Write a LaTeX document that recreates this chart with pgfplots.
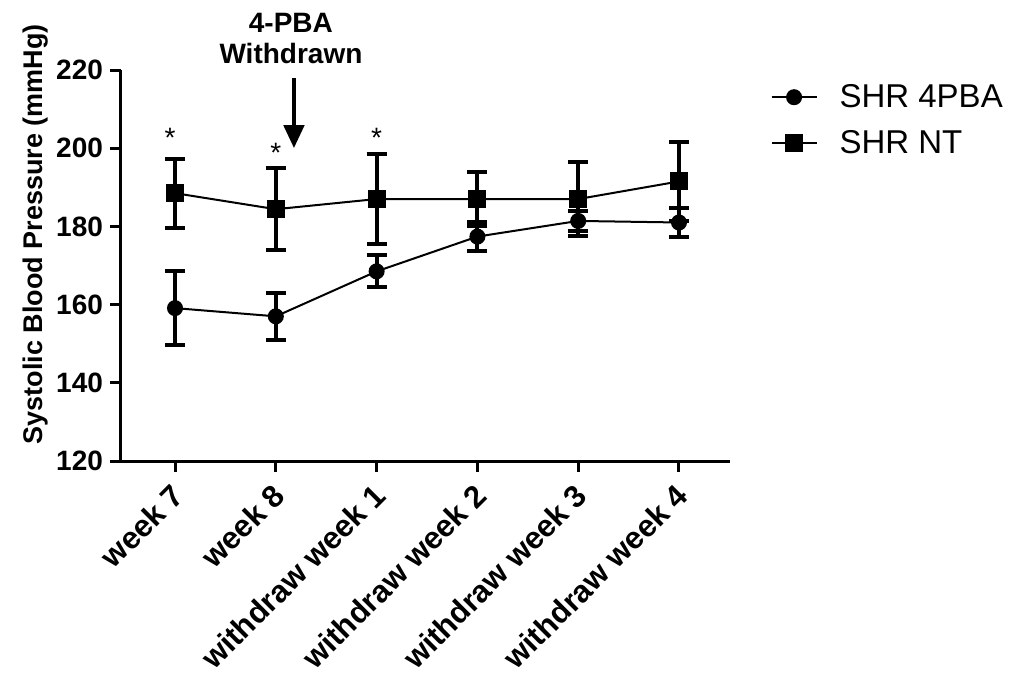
\documentclass[border=0pt]{standalone}
\usepackage{fontspec}
\setmainfont{Liberation Sans}
\usepackage{pgfplots}
\pgfplotsset{compat=1.18}
\usetikzlibrary{arrows.meta}

\begin{document}
\begin{tikzpicture}
  % 1 px of the reference = 0.5pt
  \useasboundingbox (0,0) rectangle (504.5pt,338.5pt);
  \begin{axis}[
      at={(60.5pt,108pt)}, anchor=south west,
      scale only axis,
      width=304.5pt, height=195.5pt,
      xmin=-0.536, xmax=5.506,
      ymin=120, ymax=220,
      axis lines=left,
      axis line style={line width=1.5pt, -},
      tick align=outside,
      major tick length=5.5pt,
      tick style={line width=1.5pt, black},
      xtick={0,1,2,3,4,5},
      xticklabels={week 7, week 8, withdraw week 1, withdraw week 2,
                   withdraw week 3, withdraw week 4},
      ytick={120,140,160,180,200,220},
      /pgf/number format/assume math mode=true,
      tick label style={font=\fontsize{14}{16}\selectfont\bfseries},
      xticklabel style={xshift=4pt, rotate=45, anchor=east,
                        font=\fontsize{15.5}{17}\selectfont\bfseries},
      xticklabel shift=6.5pt,
      ylabel={Systolic Blood Pressure (mmHg)},
      ylabel style={font=\fontsize{13.5}{15}\selectfont\bfseries,
                    at={(rel axis cs:-0.141,0.58)}, anchor=center},
      clip=false,
      legend style={draw=none, fill=none, inner sep=0pt,
                    at={(rel axis cs:1.066,0.975)}, anchor=north west,
                    font=\fontsize{16.5}{19}\selectfont,
                    row sep=6pt, column sep=9pt},
      legend cell align=left,
      legend image code/.code={
        \draw[mark repeat=2, mark phase=2, #1]
          plot coordinates {(0pt,0pt) (11.25pt,0pt) (22.5pt,0pt)};
      },
    ]
    \addplot[black, line width=1pt, mark=*, mark size=3.5pt,
      error bars/.cd, y dir=both, y explicit,
      error bar style={line width=2pt},
      error mark options={rotate=90, mark size=5pt, line width=2pt}]
      coordinates {
        (0,159.1) +- (0,9.4)
        (1,157.0) +- (0,6.0)
        (2,168.5) +- (0,4.1)
        (3,177.4) +- (0,3.8)
        (4,181.4) +- (0,2.6)
        (5,181.0) +- (0,3.7)
      };
    \addlegendentry{SHR 4PBA}
    \addplot[black, line width=1pt, mark=square*, mark size=4pt,
      error bars/.cd, y dir=both, y explicit,
      error bar style={line width=2pt},
      error mark options={rotate=90, mark size=5pt, line width=2pt}]
      coordinates {
        (0,188.5) +- (0,8.8)
        (1,184.4) +- (0,10.5)
        (2,187.0) +- (0,11.4)
        (3,187.0) +- (0,7.0)
        (4,187.0) +- (0,9.4)
        (5,191.5) +- (0,10.2)
      };
    \addlegendentry{SHR NT}

    % annotation
    \node[font=\fontsize{14}{15.5}\selectfont\bfseries, align=center]
      at (axis cs:1.15,228.0) {4-PBA\\Withdrawn};
    \draw[line width=2.25pt, -{Triangle[length=11.5pt,width=10pt]}]
      (axis cs:1.18,218) -- (axis cs:1.18,200);
    \node[font=\fontsize{14}{16}\selectfont, anchor=base, yshift=-8pt]
      at (axis cs:-0.05,204.3) {*};
    \node[font=\fontsize{14}{16}\selectfont, anchor=base, yshift=-8pt]
      at (axis cs:1,200.5) {*};
    \node[font=\fontsize{14}{16}\selectfont, anchor=base, yshift=-8pt]
      at (axis cs:2,204.3) {*};
  \end{axis}
\end{tikzpicture}
\end{document}
